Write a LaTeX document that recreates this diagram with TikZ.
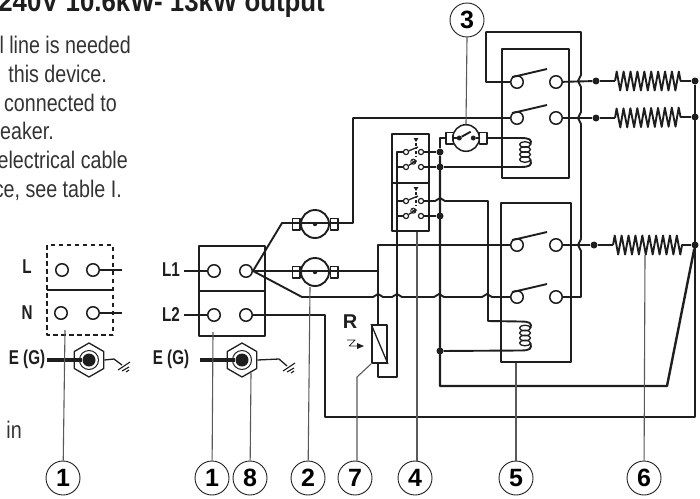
\documentclass[tikz,border=0pt]{standalone}
\usepackage{fontspec}
\setmainfont{Liberation Sans}
\usetikzlibrary{
  decorations.pathmorphing,
  shapes.geometric
}
\definecolor{ink}{HTML}{1E1E1E}
\newcommand{\hoph}[2]{-- (#1-5,#2) .. controls (#1-2.5,#2) and (#1-2.5,#2-3) .. (#1,#2-3) .. controls (#1+2.5,#2-3) and (#1+2.5,#2) .. (#1+5,#2)}
\newcommand{\hopv}[2]{-- (#1,#2-6) .. controls (#1,#2-3) and (#1-3,#2-3) .. (#1-3,#2) .. controls (#1-3,#2+3) and (#1,#2+3) .. (#1,#2+6)}
\tikzset{
  earth/.pic={
    \draw[thin wire,line width=1.1pt] (-4,5) -- (8,-3);
    \draw[thin wire,line width=1.1pt] (0,6) -- (7,2);
    \draw[thin wire,line width=1.1pt] (4,7) -- (7,5);
  },
  coilpic/.pic={
    \coordinate (-in) at (-5,-14.5);
    \coordinate (-out) at (-5,14.5);
    \draw[thin wire] (0,-8) ellipse[x radius=5.5,y radius=2.8];
    \draw[thin wire] (0,-3) ellipse[x radius=5.5,y radius=2.8];
    \draw[thin wire] (0,2) ellipse[x radius=5.5,y radius=2.8];
    \draw[thin wire] (0,7) ellipse[x radius=5.5,y radius=2.8];
    \draw[wire] (-in) .. controls (5,-14.5) and (7,-13) .. (5.5,-8);
    \draw[wire] (-out) .. controls (5,14.5) and (7,13) .. (5.5,7);
  },
  contactpair/.pic={
    \node[term] (-l) at (0,0) {};
    \node[term] (-r) at (39,0) {};
    \draw[wire] (-l.north west) .. controls (0,-6) .. (30,-13);
  },
  fusepic/.pic={
    \draw[part] (0,0) circle[radius=14];
    \node[tab] (-l) at (-19,0) {};
    \node[tab] (-r) at (19,0) {};
    \fill[ink] (0,0) circle[radius=2.2];
  },
  switchpair/.pic={
    \node[small term] (-tl) at (-10,0) {};
    \node[small term] (-tr) at (5,0) {};
    \node[small term] (-bl) at (-10,15) {};
    \node[small term] (-br) at (5,15) {};
    \fill[ink] (-2.5,-14) -- (2.5,-14) -- (0,-10) -- cycle;
    \draw[thin wire,dash pattern=on 3pt off 2pt on 1pt off 2pt] (0,-9) -- (0,6);
    \draw[thin wire] (-tl) -- (2,-5);
    \draw[thin wire] (-bl) -- (0.6,8.7);
    \draw[thin wire,line width=.9pt] (-2.7,9.7) circle[radius=2.6];
    \draw[thin wire,line width=.7pt] (-4.5,7.9) -- (-0.9,11.5);
    \draw[thin wire,line width=.7pt] (-4.5,11.5) -- (-0.9,7.9);
  }
}
\begin{document}
\begin{tikzpicture}[
  x=1pt,y=-1pt,
  line join=round,
  wire/.style={draw=ink,line width=1.9pt},
  heavy wire/.style={draw=ink,line width=2.4pt},
  thin wire/.style={draw=ink,line width=1.3pt},
  part/.style={draw=ink,line width=1.9pt},
  leader/.style={draw=black!65,line width=1.1pt},
  term/.style={circle,draw=ink,fill=white,line width=1.5pt,inner sep=0pt,minimum size=12.5pt},
  small term/.style={circle,draw=ink,fill=white,line width=1.2pt,inner sep=0pt,minimum size=5.2pt},
  dot/.style={circle,fill=ink,inner sep=0pt,minimum size=7pt},
  tab/.style={rectangle,draw=ink,line width=1.5pt,inner sep=0pt,minimum width=7.5pt,minimum height=11.5pt},
  number/.style={circle,draw=ink,line width=.9pt,fill=white,inner sep=0pt,minimum size=34pt,font=\fontsize{25}{25}\selectfont\bfseries},
  label/.style={font=\fontsize{20}{20}\selectfont\bfseries,text=ink,xscale=.76,transform shape,inner sep=0pt},
  body/.style={font=\fontsize{24}{24}\selectfont,text=black!80,xscale=.82,transform shape,inner sep=0pt,anchor=base east},
  nut/.style={regular polygon,regular polygon sides=6,shape border rotate=30,draw=ink,line width=1.3pt,inner sep=0pt,minimum size=34pt},
  heater/.style={draw=ink,line width=1.9pt,decorate,decoration={zigzag,segment length=6.9pt,amplitude=9.5pt}}
]
\useasboundingbox (0,0) rectangle (700,498);
\clip (0,0) rectangle (700,498);
\node[font=\fontsize{29}{29}\selectfont\bfseries,text=ink,xscale=.89,transform shape,inner sep=0pt,anchor=base east] (title) at (325,11) {240V 10.6kW- 13kW output};
\node[body] (tl1) at (131,53) {l line is needed};
\node[body] (tl2) at (107,82) {this device.};
\node[body] (tl3) at (117,111) {connected to};
\node[body] (tl4) at (54,139) {reaker.};
\node[body] (tl5) at (128,168) {electrical cable};
\node[body] (tl6) at (122,197) {ce, see table I.};
\node[body] (tl7) at (22,438) {n in};

\node[number] (n1a) at (63,478) {1};
\node[number] (n1b) at (212,478) {1};
\node[number] (n8) at (250,478) {8};
\node[number] (n2) at (308,478) {2};
\node[number] (n7) at (355,478) {7};
\node[number] (n4) at (415,478) {4};
\node[number] (n5) at (516,478) {5};
\node[number] (n6) at (644,478) {6};
\node[number] (n3) at (467,20) {3};

\draw[part,dashed,dash pattern=on 4.5pt off 3.5pt,line width=1.5pt] (47,245) rectangle (113,335);
\draw[thin wire,line width=1.4pt] (47,290) -- (112,290);
\node[term] (la) at (62,270) {};
\node[term] (lb) at (93,270) {};
\node[term] (na) at (61,313) {};
\node[term] (nb) at (93,313) {};
\coordinate (lend) at (122,270);
\coordinate (nend) at (122,313);
\draw[wire] (lb) -- (lend);
\draw[wire] (nb) -- (nend);
\node[label] (llabel) at (27,267) {L};
\node[label] (nlabel) at (27,313) {N};
\node[label] (ega) at (27,359) {E (G)};
\node[nut] (nuta) at (89,360) {};
\draw[thin wire,line width=1pt] (nuta) circle[radius=9.5];
\node[circle,fill=ink,inner sep=0pt,minimum size=13pt] (boltb) at (nuta) {};
\draw[ink,line width=3.8pt] (ega.east) ++(2,1) -- (boltb);
\coordinate (groa) at (122,365);
\draw[thin wire] (nuta.east) -- (114,359) -- (groa);
\pic at (groa) {earth};

\draw[part] (199,246) rectangle (265,336);
\draw[part] (199,291) -- (265,291);
\node[term] (tla) at (214,271) {};
\node[term] (tlb) at (246,271) {};
\node[term] (tna) at (214,315) {};
\node[term] (tnb) at (246,315) {};
\node[label] (lone) at (171,270) {L1};
\node[label] (ltwo) at (171,315) {L2};
\node[label] (egb) at (171,359) {E (G)};
\coordinate (lonein) at (184,271);
\coordinate (ltwoin) at (184,315);
\draw[wire] (lonein) -- (tla);
\draw[wire] (ltwoin) -- (tna);
\node[nut] (nutb) at (242,360) {};
\draw[thin wire,line width=1pt] (nutb) circle[radius=9.5];
\node[circle,fill=ink,inner sep=0pt,minimum size=13pt] (boltc) at (nutb) {};
\coordinate (cablein) at (200,360);
\draw[ink,line width=3.8pt] (cablein) -- (boltc);
\coordinate (grob) at (287,366);
\draw[thin wire] (nutb.east) -- (279,359) -- (grob);
\pic at (grob) {earth};

\pic (fa) at (315,224) {fusepic};
\pic (fb) at (315,272) {fusepic};

\draw[part] (502,49) rectangle (569,178);
\draw[part] (501,203) rectangle (571,362);
\pic (ca) at (517,82) {contactpair};
\pic (cb) at (517,118) {contactpair};
\pic (cc) at (517,245) {contactpair};
\pic (cd) at (517,297) {contactpair};

\draw[part] (392,134) rectangle (429,231);
\draw[part] (392,183) -- (429,183);
\pic (sa) at (416,152) {switchpair};
\pic (sb) at (416,201) {switchpair};
\pic (coila) at (525,152.5) {coilpic};
\pic (coilb) at (525,336) {coilpic};

\draw[part,line width=1.5pt] (466,138) circle[radius=13.3];
\node[tab] (tha) at (449.5,138) {};
\node[tab] (thb) at (483,138) {};
\node[dot,minimum size=5pt] (thc) at (459.3,138) {};
\node[dot,minimum size=5pt] (thd) at (473.3,138) {};
\draw[wire] (tha) -- (thc);
\draw[wire] (thd) -- (thb);
\draw[wire] (thc) -- (470.7,131.7);

\node[rectangle,draw=ink,line width=1.9pt,minimum width=15pt,minimum height=38pt,inner sep=0pt] (relay) at (379.5,344) {};
\draw[wire,line width=1.3pt] (relay.north west) -- (relay.south east);
\node[font=\fontsize{20}{20}\selectfont\bfseries,text=ink,inner sep=0pt] (rlabel) at (350,322) {R};
\coordinate (za) at (347,340);
\coordinate (zb) at (364,346);
\draw[ink,line width=.7pt] (za) -- (355,340) -- (349,346) -- (357,346);
\fill[ink] (zb) -- (357,343) -- (357,349) -- cycle;

\node[dot] (da) at (440,152) {};
\node[dot] (db) at (440,167) {};
\node[dot] (dc) at (440,216) {};
\node[dot] (dd) at (440,351) {};
\node[dot] (de) at (596,81) {};
\node[dot] (df) at (596,118) {};
\node[dot] (dg) at (594,245) {};
\node[dot] (dh) at (695,81) {};
\node[dot] (di) at (695,117) {};
\node[dot] (dj) at (695,245) {};

\coordinate (ra) at (615,81);
\coordinate (rb) at (683,81);
\coordinate (rc) at (615,118);
\coordinate (rd) at (683,117);
\coordinate (re) at (613,245);
\coordinate (rf) at (682,245);
\draw[heater] (ra) -- (rb);
\draw[heater] (rc) -- (rd);
\draw[heater] (re) -- (rf);
\draw[wire] (de) -- (ra);
\draw[wire] (rb) -- (dh);
\draw[wire] (df) -- (rc);
\draw[wire] (rd) -- (di);
\draw[wire] (dg) -- (re);
\draw[wire] (rf) -- (dj);
\draw[wire] (ca-r) -- (de);
\draw[wire] (cb-r) -- (df);
\draw[wire] (cc-r) -- (dg);

\draw[wire] (tlb.east) -- (282,223) -- (353,223) -- (353,118) -- (cb-l);
\draw[wire] (tlb.east) -- (378,271);
\draw[wire] (cc-l) -- (378,245) -- (relay.north -| 378,0);
\draw[wire] (tlb.east) -- (302,297) \hoph{378}{297} \hoph{397}{297} \hoph{439}{297} \hoph{487}{297} -- (cd-l);
\draw[wire] (tnb) -- (325,315) -- (325,417) -- (695,417) -- (dh);
\draw[wire] (relay.south -| 378,0) -- (378,377) -- (397,377) -- (397,152) -- (sa-tl);
\draw[wire,line width=1.5pt] (397,167) -- (sa-bl);
\draw[wire,line width=1.5pt] (397,201) -- (sb-tl);
\draw[wire,line width=1.5pt] (397,216) -- (sb-bl);
\draw[heavy wire] (da) -- (440,386) -- (667,386) -- (dj);
\draw[wire] (sa-tr) -- (da);
\draw[wire] (sa-br) -- (db) -- (coila-out);
\draw[wire] (sb-tr) \hoph{440}{201} -- (488,201) -- (488,321) -- (coilb-in);
\draw[wire] (sb-br) -- (dc);
\draw[wire] (coilb-out) -- (dd);
\draw[wire] (da) -- (440,138) -- (tha);
\draw[wire] (thb) -- (coila-in);
\draw[wire] (ca-l) -- (486,82) -- (486,32) -- (581,32) \hopv{581}{81} \hopv{581}{118} \hopv{581}{245} -- (581,297) -- (cd-r);

\draw[leader] (n1a) -- (65,330);
\draw[leader] (n1b) -- (213,332);
\draw[leader] (n8) -- (251,373);
\draw[leader] (n2) -- (310,287);
\draw[leader] (n7.north -| 357,0) -- (357,377) -- (relay.south west);
\draw[leader] (n4.north -| 417,0) -- (417,232);
\draw[leader] (n5) -- (516,363);
\draw[leader] (n6) -- (645,255);
\draw[leader] (n3.south) -- (466,124);
\end{tikzpicture}
\end{document}
